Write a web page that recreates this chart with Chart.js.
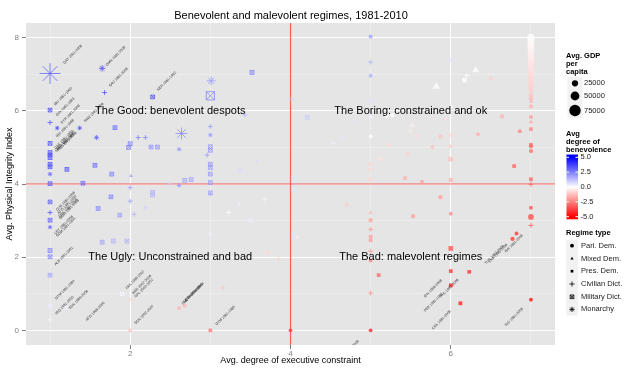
<!DOCTYPE html>
<html>
<head>
<meta charset="utf-8">
<script src="https://cdn.jsdelivr.net/npm/chart.js@4.4.0/dist/chart.umd.min.js"></script>
<style>
html, body { margin: 0; padding: 0; background: #ffffff; }
#wrap { width: 640px; height: 373px; }
</style>
</head>
<body>
<div id="wrap"><canvas id="regimeChart" width="640" height="373"></canvas></div>
<script>
// Each row: [executive constraint, physical integrity, benevolence, GDP per capita]
const parlDem = [
    [7, 8.00, 0.0, 38000], [7, 7.92, -0.1, 32000], [7, 7.85, -0.1, 30000], [7, 7.78, -0.2, 33000],
    [7, 7.70, -0.2, 30000], [7, 7.62, -0.3, 27000], [7, 7.55, -0.3, 29000], [7, 7.47, -0.4, 26000],
    [7, 7.40, -0.4, 24000], [7, 7.32, -0.5, 26000], [7, 7.25, -0.5, 22000], [7, 7.18, -0.6, 24000],
    [7, 7.10, -0.6, 21000], [7, 7.02, -0.7, 22000], [7, 6.95, -0.7, 19000], [7, 6.88, -0.8, 20000],
    [7, 6.80, -0.8, 17000], [7, 6.72, -0.9, 18000], [7, 6.65, -0.9, 15000], [7, 6.55, -1.1, 12000],
    [7, 6.42, -1.3, 10000], [7, 6.33, -1.4, 9000], [7, 6.12, -1.6, 6000], [7, 5.83, -2.0, 5000],
    [7, 5.03, -3.0, 6000], [7, 4.90, -3.0, 5000],
    [5, 8.03, 2.0, 3000], [5, 6.96, 1.5, 3000], [5, 6.27, 0.6, 4000], [5, 5.83, 0.3, 5000], [5, 5.30, 0.0, 4000],
    [6, 7.40, 0.6, 3000], [6, 6.10, 0.0, 6000], [6, 5.34, -0.8, 3000], [6, 5.03, -1.0, 3000],
    [6.17, 6.84, 0.0, 17000], [6.64, 5.85, -1.5, 8000], [6.86, 5.44, -2.5, 4000],
    [5.20, 5.86, 0.0, 9000], [5.27, 5.88, 0.0, 7000], [5.50, 5.45, -0.5, 5000],
    [4.82, 5.70, 0.6, 3000], [4.64, 5.25, 0.5, 3000], [6.34, 5.36, -1.6, 4000],
    [5.77, 5.01, -1.3, 3000], [5.57, 5.32, -0.7, 3000],
    [5, 3.01, -1.8, 8000], [6, 3.19, -2.4, 3000], [7, 3.35, -3.5, 3000], [7, 3.10, -3.6, 20000],
    [6.77, 2.50, -4.0, 7000], [6.82, 2.65, -4.0, 4000], [7, 0.84, -5.0, 2000],
    [5, 0.00, -4.5, 2000], [4, 0.00, -4.0, 2000]
];

const mixedDem = [
    [5.82, 6.66, 0.0, 35000], [6.31, 7.11, 0.0, 30000], [6.50, 6.89, -1.0, 10000],
    [5.93, 5.77, -0.6, 4000], [7, 5.69, -2.0, 4000], [7, 6.25, -1.5, 5000],
    [5, 3.22, -1.5, 3000], [2.01, 4.22, 2.0, 2000]
];

const presDem = [
    [2.61, 0.61, -1.5, 3000], [2.68, 0.68, -1.5, 3000], [2, 0.00, -1.2, 3000], [3, 0.00, -2.8, 3000],
    [6.79, 4.49, -3.2, 4000], [5, 4.54, -0.8, 4000], [5, 4.40, -0.8, 3000], [5, 4.13, -0.9, 4000],
    [5.43, 4.16, -1.6, 3000], [5.64, 4.06, -2.0, 2000], [5.87, 5.29, -1.2, 4000], [6, 4.68, -1.3, 15000],
    [7, 5.50, -2.5, 4000], [7, 5.07, -3.0, 5000], [7, 4.13, -3.0, 5000], [4.70, 3.44, -1.0, 4000],
    [5.87, 3.64, -2.0, 5000], [5.53, 3.12, -2.0, 5000], [5, 2.56, -2.0, 3000], [5, 2.46, -2.0, 3000],
    [5, 1.91, -2.5, 2000], [6, 4.11, -2.0, 3000], [6, 2.24, -3.5, 15000], [6, 1.62, -4.2, 4000],
    [6, 1.23, -4.6, 5000], [6.23, 1.60, -4.2, 4000], [6.12, 0.74, -4.6, 5000], [5.10, 1.51, -3.0, 5000],
    [3.71, 2.12, -0.8, 3000], [5.23, 5.06, -0.8, 3000], [5.11, 4.68, -0.6, 4000], [5.46, 4.83, -1.0, 3000],
    [4.08, 2.55, -0.5, 3000]
];

const civilDict = [
    [1.68, 6.50, 3.5, 2000], [1, 5.68, 3.5, 1500], [2.10, 5.27, 2.5, 2000], [2.19, 5.27, 2.5, 2000],
    [3, 5.57, 2.0, 2000], [2.96, 4.79, 2.0, 3000], [3.43, 5.89, 1.5, 2000], [3.58, 4.63, 0.8, 2000],
    [4.01, 6.32, 1.0, 3000], [5, 7.33, 1.5, 3000], [4.53, 5.11, 0.3, 3000], [5.52, 5.60, -0.3, 3000],
    [6.20, 6.96, 0.0, 3000], [6, 4.10, -1.0, 3000], [7, 3.99, -3.0, 3000], [7, 2.87, -3.2, 5000],
    [5, 2.76, -2.0, 3000], [5, 2.16, -2.0, 3000], [5, 1.02, -2.2, 3000], [1, 3.22, 3.5, 2000],
    [2, 3.90, 2.0, 2000], [2, 3.53, 2.0, 2000], [2.05, 3.17, 1.5, 2000], [2.19, 3.35, 1.0, 2000],
    [3, 3.72, 1.5, 2000], [2.50, 4.00, 1.0, 2000], [3, 2.62, 0.3, 3000], [3.23, 3.22, 0.0, 3000],
    [3.36, 3.44, 0.3, 3000], [3.68, 3.58, 0.2, 2000], [3.85, 1.96, -1.0, 3000], [3.16, 1.16, -1.2, 3000],
    [2.01, 0.84, -0.8, 3000], [1, 0.29, 0.2, 1000]
];

const milDict = [
    [1, 6.02, 3.5, 1500], [1, 5.11, 3.5, 1500], [1, 4.86, 3.5, 1500], [1, 4.79, 3.5, 1500],
    [1, 4.72, 3.5, 1500], [1, 4.54, 3.5, 1500], [1, 4.47, 3.5, 1500], [1, 4.01, 3.3, 1500],
    [1, 3.51, 3.2, 1500], [1, 3.01, 3.2, 1500], [1, 2.18, 2.5, 3000], [1, 2.01, 2.5, 2000],
    [1, 1.51, 1.8, 1500], [1, 0.66, 0.4, 1500], [2.28, 6.38, 3.5, 1500], [3, 6.41, 2.5, 45000],
    [3.52, 7.05, 2.5, 3000], [1.81, 5.54, 3.0, 1500], [2, 5.10, 2.5, 3000], [1.98, 5.00, 2.5, 3000],
    [2.26, 5.01, 2.2, 2000], [2.34, 5.01, 2.2, 2000], [1.56, 4.51, 3.0, 1500], [1.21, 4.40, 3.5, 1500],
    [1.77, 4.27, 2.5, 3000], [1.41, 4.02, 3.0, 1500], [2.68, 4.10, 1.8, 2000], [2.76, 4.12, 1.8, 2000],
    [3, 5.02, 2.0, 2000], [3, 4.92, 2.0, 2000], [3, 4.54, 2.0, 2000], [3, 4.45, 2.0, 2000],
    [3, 4.27, 2.0, 2000], [3, 4.04, 2.0, 2000], [3, 3.76, 1.8, 2000], [1.60, 3.33, 2.5, 1500],
    [1.76, 3.65, 2.5, 1500], [1.87, 3.15, 2.0, 1500], [1.79, 2.44, 1.5, 3000], [1.96, 2.44, 1.5, 3000],
    [1.65, 2.41, 1.8, 2000], [2.28, 3.77, 1.5, 2000], [2.28, 3.70, 1.5, 2000], [3.37, 4.36, 0.7, 2000],
    [3.50, 3.01, 0.4, 4000], [1.90, 1.00, 0.2, 2000], [4.21, 5.82, 1.0, 3000], [1.19, 0.63, 0.3, 2000]
];

const monarchy = [
    [1, 7.02, 3.2, 140000], [1.65, 7.16, 3.5, 20000], [3.01, 6.82, 2.0, 40000], [1.09, 5.53, 3.5, 3000],
    [1.37, 5.53, 3.5, 3000], [1.58, 5.27, 3.0, 9000], [2.64, 5.38, 2.3, 65000], [3, 5.34, 2.0, 3000],
    [2.61, 4.95, 2.0, 3000], [1, 4.27, 3.0, 3000], [1, 2.82, 3.0, 2000], [2.61, 3.96, 2.0, 3000]
];

// Country labels: [x, y, text]
const countryLabels = [
    [1.18, 7.28, 'QAT 2001-2008'], [1.71, 7.22, 'OMN 1981-2008'], [1.75, 6.65, 'SAU 1981-2008'],
    [2.35, 6.54, 'NER 1981-1992'], [1.065, 6.14, 'MLI 1981-1990'], [1.09, 5.85, 'GIN 1981-1983'],
    [1.15, 5.64, 'SYR 1981-2008'], [1.09, 5.27, 'BDI 1981-1988'], [1.44, 5.68, 'SWZ 1981-2008'],
    [1.07, 4.95, 'CAF 1981-1993'], [1.09, 4.92, 'ZAR 1981-1997'], [1.11, 4.90, 'TCD 1981-2008'],
    [1.08, 4.86, 'SDN 1981-1985'], [1.09, 3.26, 'CUB 1981-2008'], [1.11, 3.17, 'AFG 1981-1992'],
    [1.12, 3.08, 'PRK 1981-2008'], [1.13, 3.03, 'MMR 1981-2008'], [1.07, 2.62, 'LBY 1981-2008'],
    [1.09, 2.55, 'SOM 1981-1991'], [1.07, 1.77, 'ALB 1981-1991'], [1.08, 0.84, 'GTM 1981-1984'],
    [1.08, 0.43, 'IRQ 1981-2003'], [1.25, 0.57, 'SDN 1989-2008'], [1.46, 0.25, 'AFG 1996-2000'],
    [1.96, 1.12, 'PAK 1999-2007'], [2.04, 0.98, 'BGD 2007-2008'], [2.07, 0.89, 'NPL 2002-2007'],
    [2.07, 0.16, 'SDN 2002-2007'], [2.66, 0.70, 'SLE 1997-1998'], [2.68, 0.75, 'NGA 1984-1998'],
    [2.70, 0.79, 'ETH 1991-1994'], [3.08, 0.13, 'GTM 1981-1985'], [5.68, 0.89, 'IDN 1998-2008'],
    [5.68, 0.50, 'PER 1981-1992'], [5.88, 0.89, 'PHL 1987-2008'], [5.78, 0.02, 'COL 1981-2008'],
    [6.69, 0.11, 'IND 1981-2008'], [6.44, 1.80, 'TUR 1983-2008'], [6.49, 1.85, 'LKA 1981-2008'],
    [6.69, 2.12, 'ISR 1981-2008'], [4.64, -0.78, 'SLV 1981-2008']
];

const quadrantLabels = [
    [2.5, 6, 'The Good: benevolent despots'], [5.5, 6, 'The Boring: constrained and ok'],
    [2.5, 2, 'The Ugly: Unconstrained and bad'], [5.5, 2, 'The Bad: malevolent regimes']
];

const xTicks = [1, 2, 3, 4, 5, 6, 7];
const yTicks = [0, 1, 2, 3, 4, 5, 6, 7, 8];
const gdpBreaks = [25000, 50000, 75000];
const benevolenceBreaks = [5, 2.5, 0, -2.5, -5];
const regimeTypes = ['Parl. Dem.', 'Mixed Dem.', 'Pres. Dem.', 'Civilian Dict.', 'Military Dict.', 'Monarchy'];

const FONT = '"Liberation Sans", Arial, Helvetica, sans-serif';

// red - white - blue diverging scale
function benevColor(b, alpha) {
    const t = Math.min(Math.abs(b) / 5, 1);
    const c = Math.round(255 * (1 - t));
    const a = alpha === undefined ? 1 : alpha;
    return b >= 0 ? `rgba(${c},${c},255,${a})` : `rgba(255,${c},${c},${a})`;
}

function gdpRadius(g) {
    return 1.8 + g / 75000 * 3.9;
}

const POINT_ALPHA = 0.75;

function makeSet(rows, style, scale, filled) {
    return {
        data: rows.map(r => ({ x: r[0], y: r[1] })),
        pointStyle: style,
        pointRadius: rows.map(r => gdpRadius(r[3]) * scale),
        pointBackgroundColor: filled ? rows.map(r => benevColor(r[2], POINT_ALPHA)) : 'rgba(0,0,0,0)',
        pointBorderColor: rows.map(r => benevColor(r[2], POINT_ALPHA)),
        pointBorderWidth: filled ? 0 : 1
    };
}

const panelPlugin = {
    id: 'panel',
    beforeDraw(chart) {
        const { ctx, chartArea: a } = chart;
        ctx.save();
        ctx.fillStyle = '#E5E5E5';
        ctx.fillRect(a.left, a.top, a.right - a.left, a.bottom - a.top);
        ctx.restore();
    },
    beforeDatasetsDraw(chart) {
        const { ctx, chartArea: a, scales } = chart;
        const x4 = scales.x.getPixelForValue(4);
        const y4 = scales.y.getPixelForValue(4);
        ctx.save();
        ctx.strokeStyle = 'rgba(255,0,0,0.62)';
        ctx.lineWidth = 1.2;
        ctx.beginPath();
        ctx.moveTo(x4, a.top); ctx.lineTo(x4, a.bottom);
        ctx.moveTo(a.left, y4); ctx.lineTo(a.right, y4);
        ctx.stroke();
        ctx.restore();
    },
    afterDatasetsDraw(chart) {
        const { ctx, chartArea: a, scales } = chart;
        ctx.save();
        ctx.beginPath();
        ctx.rect(a.left, a.top, a.right - a.left, a.bottom - a.top);
        ctx.clip();
        // country labels at 45 degrees
        ctx.font = '3.6px ' + FONT;
        ctx.fillStyle = 'rgba(25,25,25,0.9)';
        ctx.textAlign = 'left';
        ctx.textBaseline = 'alphabetic';
        countryLabels.forEach(([x, y, text]) => {
            ctx.save();
            ctx.translate(scales.x.getPixelForValue(x), scales.y.getPixelForValue(y));
            ctx.rotate(-Math.PI / 4);
            ctx.fillText(text, 0, 0);
            ctx.restore();
        });
        // quadrant captions
        ctx.font = '11px ' + FONT;
        ctx.fillStyle = '#000000';
        ctx.textAlign = 'center';
        ctx.textBaseline = 'middle';
        quadrantLabels.forEach(([x, y, text]) => {
            ctx.fillText(text, scales.x.getPixelForValue(x), scales.y.getPixelForValue(y));
        });
        ctx.restore();
    },
    afterDraw(chart) {
        const { ctx, chartArea: a } = chart;
        const drawPoint = Chart.helpers.drawPoint;
        ctx.save();
        ctx.fillStyle = '#000000';
        ctx.textBaseline = 'middle';
        ctx.textAlign = 'center';
        ctx.font = '11px ' + FONT;
        ctx.fillText('Benevolent and malevolent regimes, 1981-2010', 291, 15.5);
        ctx.font = '9px ' + FONT;
        ctx.fillText('Avg. degree of executive constraint', (a.left + a.right) / 2, 361);
        ctx.save();
        ctx.translate(10, (a.top + a.bottom) / 2);
        ctx.rotate(-Math.PI / 2);
        ctx.fillText('Avg. Physical Integrity Index', 0, 0);
        ctx.restore();

        // size legend
        ctx.textAlign = 'left';
        ctx.font = 'bold 7.5px ' + FONT;
        ['Avg. GDP', 'per', 'capita'].forEach((t, i) => ctx.fillText(t, 566, 55.5 + i * 8));
        ctx.fillStyle = '#F2F2F2';
        ctx.fillRect(567.5, 77, 15, 41);
        const sizeRows = [83.3, 96, 110.5];
        ctx.font = '7.5px ' + FONT;
        gdpBreaks.forEach((g, i) => {
            ctx.fillStyle = '#000000';
            ctx.strokeStyle = '#000000';
            drawPoint(ctx, { pointStyle: 'circle', radius: gdpRadius(g), rotation: 0, borderWidth: 0 }, 575, sizeRows[i]);
            ctx.fillStyle = '#222222';
            ctx.fillText(String(g), 584, sizeRows[i]);
        });

        // colour bar
        ctx.font = 'bold 7.5px ' + FONT;
        ctx.fillStyle = '#000000';
        ['Avg', 'degree of', 'benevolence'].forEach((t, i) => ctx.fillText(t, 566, 133.5 + i * 8.4));
        const barTop = 154.5, barBottom = 219.3, barL = 566.5, barR = 578;
        const vTop = 157.3, vBottom = 216.7;
        const grad = ctx.createLinearGradient(0, barTop, 0, barBottom);
        for (let k = 0; k <= 10; k++) {
            const v = 5 - k;
            const yy = vTop + (5 - v) / 10 * (vBottom - vTop);
            grad.addColorStop(Math.min(Math.max((yy - barTop) / (barBottom - barTop), 0), 1), benevColor(v));
        }
        ctx.fillStyle = grad;
        ctx.fillRect(barL, barTop, barR - barL, barBottom - barTop);
        ctx.font = '7.5px ' + FONT;
        benevolenceBreaks.forEach(v => {
            const yy = vTop + (5 - v) / 10 * (vBottom - vTop);
            ctx.strokeStyle = '#FFFFFF';
            ctx.lineWidth = 1;
            ctx.beginPath();
            ctx.moveTo(barL, yy); ctx.lineTo(barL + 2.5, yy);
            ctx.moveTo(barR - 2.5, yy); ctx.lineTo(barR, yy);
            ctx.stroke();
            ctx.fillStyle = '#222222';
            ctx.fillText(v.toFixed(1), 580.5, yy);
        });

        // regime legend
        ctx.font = 'bold 7.5px ' + FONT;
        ctx.fillStyle = '#000000';
        ctx.fillText('Regime type', 566, 233.3);
        ctx.fillStyle = '#F2F2F2';
        ctx.fillRect(566, 239.5, 12, 76);
        const regimeRows = [245.7, 258.6, 271.2, 284, 296.8, 309.4];
        const styles = ['circle', 'triangle', 'rect', 'cross', 'milsq', 'star'];
        ctx.font = '7.5px ' + FONT;
        regimeTypes.forEach((name, i) => {
            const yy = regimeRows[i];
            ctx.fillStyle = '#000000';
            ctx.strokeStyle = '#000000';
            ctx.lineWidth = 0.8;
            if (styles[i] === 'milsq') {
                ctx.fillStyle = 'rgba(0,0,0,0)';
                drawPoint(ctx, { pointStyle: 'rect', radius: 2.6, rotation: 0, borderWidth: 0.8 }, 572, yy);
                drawPoint(ctx, { pointStyle: 'crossRot', radius: 2.6, rotation: 0, borderWidth: 0.8 }, 572, yy);
            } else {
                const filled = ['circle', 'triangle', 'rect'].includes(styles[i]);
                drawPoint(ctx, { pointStyle: styles[i], radius: filled ? 1.9 : 2.6, rotation: 0, borderWidth: filled ? 0 : 0.8 }, 572, yy);
            }
            ctx.fillStyle = '#222222';
            ctx.fillText(name, 581, yy);
        });
        ctx.restore();
    }
};

function gridColor(ctx) {
    return ctx.tick && ctx.tick.value % 2 === 0 ? '#FFFFFF' : '#F2F2F2';
}
function gridWidth(ctx) {
    return ctx.tick && ctx.tick.value % 2 === 0 ? 1 : 0.5;
}
function tickMarkColor(ctx) {
    return ctx.tick && ctx.tick.value % 2 === 0 ? '#7F7F7F' : 'rgba(0,0,0,0)';
}

new Chart(document.getElementById('regimeChart'), {
    type: 'scatter',
    data: {
        datasets: [
            makeSet(monarchy, 'star', 1.15, false),
            makeSet(milDict, 'rect', 1.4, false),
            makeSet(milDict, 'crossRot', 1.4, false),
            makeSet(civilDict, 'cross', 1.3, false),
            makeSet(presDem, 'rect', 1.3, true),
            makeSet(mixedDem, 'triangle', 1.2, true),
            makeSet(parlDem, 'circle', 1.0, true)
        ]
    },
    options: {
        responsive: false,
        devicePixelRatio: 1,
        animation: false,
        events: [],
        layout: { padding: { left: 0, top: 23, right: 85, bottom: 0 } },
        plugins: {
            legend: { display: false },
            tooltip: { enabled: false },
            title: { display: false }
        },
        scales: {
            x: {
                type: 'linear',
                min: 0.7,
                max: 7.3,
                afterFit: s => { s.height = 28; },
                afterBuildTicks: s => { s.ticks = xTicks.map(v => ({ value: v })); },
                border: { display: false },
                grid: { color: gridColor, lineWidth: gridWidth, tickColor: tickMarkColor, tickLength: 4, drawTicks: true },
                ticks: {
                    autoSkip: false,
                    maxRotation: 0,
                    padding: 0,
                    color: '#7F7F7F',
                    font: { size: 8, family: FONT },
                    callback: v => (v % 2 === 0 ? String(v) : '')
                }
            },
            y: {
                type: 'linear',
                min: -0.4,
                max: 8.4,
                afterFit: s => { s.width = 26; },
                afterBuildTicks: s => { s.ticks = yTicks.map(v => ({ value: v })); },
                border: { display: false },
                grid: { color: gridColor, lineWidth: gridWidth, tickColor: tickMarkColor, tickLength: 4, drawTicks: true },
                ticks: {
                    autoSkip: false,
                    padding: 3,
                    color: '#7F7F7F',
                    font: { size: 8, family: FONT },
                    callback: v => (v % 2 === 0 ? String(v) : '')
                }
            }
        }
    },
    plugins: [panelPlugin]
});
</script>
</body>
</html>
